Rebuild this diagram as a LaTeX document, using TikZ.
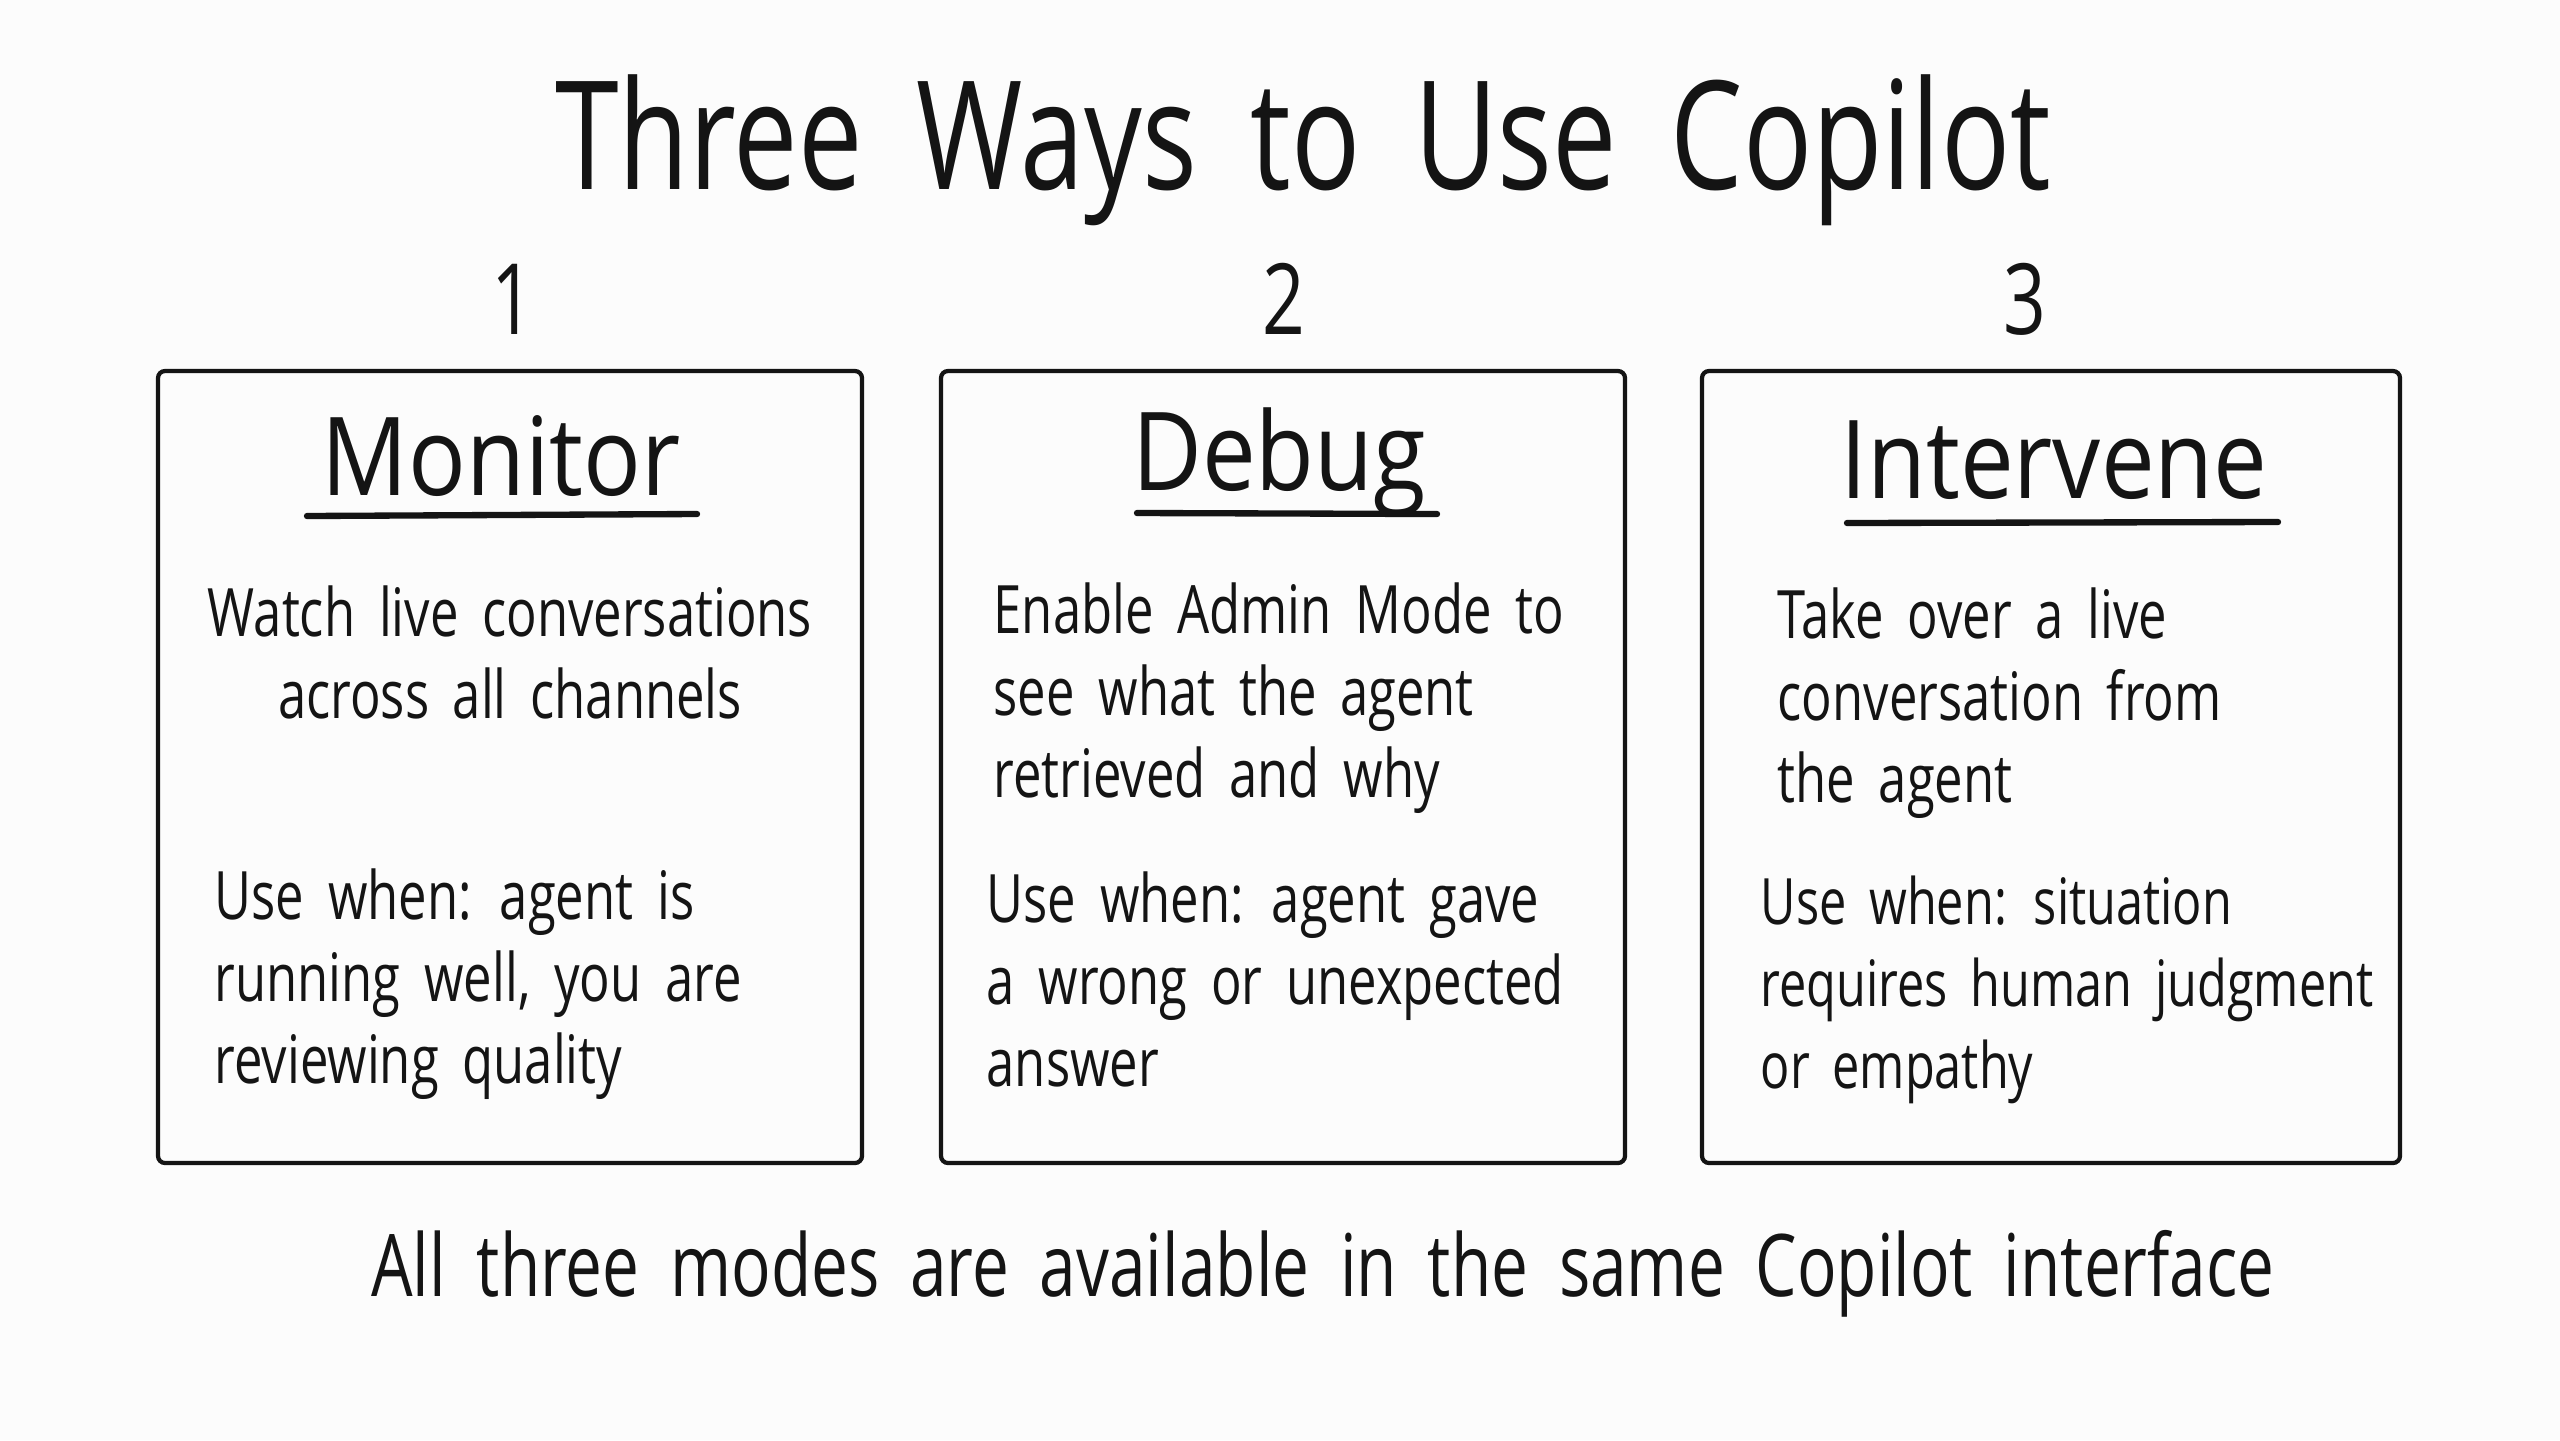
\documentclass[tikz,border=0pt]{standalone}
\usepackage{fontspec}
\setmainfont[WordSpace=1.6]{Open Sans}
\newfontfamily\handfont[FakeStretch=0.76,WordSpace=1.8]{Open Sans}
\newfontfamily\headfont[FakeStretch=0.88,WordSpace=1.8]{Open Sans}
\usepackage{xcolor}
\usetikzlibrary{positioning}
\definecolor{ink}{HTML}{141414}
\definecolor{paper}{HTML}{FCFCFC}
\tikzset{
	card/.style={draw=ink, line width=1.2pt, rounded corners=2pt, minimum height=7.92cm},
	heading/.style={font=\headfont\fontsize{31}{36}\selectfont, text=ink, inner sep=0pt, anchor=base},
	body/.style={font=\handfont\fontsize{19}{23.3}\selectfont, align=left, anchor=north west, inner sep=0pt, text=ink},
	rule/.style={draw=ink, line width=1.8pt, line cap=round},
	number/.style={font=\handfont\fontsize{28}{30}\selectfont, text=ink, inner sep=0pt}
}

\begin{document}
\begin{tikzpicture}
	\fill[paper] (0,0) rectangle (25.6,-14.4);
	\useasboundingbox (0,0) rectangle (25.6,-14.4);
	% Title
	\node[font=\handfont\fontsize{43}{48}\selectfont, text=ink] (title) at (13.03,-1.50) {Three Ways to Use Copilot};
	% Numbers
	\node[number] (n-1) at (5.13,-2.99) {1};
	\node[number] (n-2) at (12.84,-2.99) {2};
	\node[number] (n-3) at (20.25,-2.99) {3};
	% Cards
	\node[card, minimum width=7.04cm] (box-1) at (5.10,-7.67) {};
	\node[card, minimum width=6.84cm] (box-2) at (12.83,-7.67) {};
	\node[card, minimum width=6.98cm] (box-3) at (20.51,-7.67) {};
	% Headings
	\node[heading] (head-1) at (5.01,-4.95) {Monitor};
	\node[heading] (head-2) at (12.79,-4.90) {Debug};
	\node[heading] (head-3) at (20.54,-4.98) {Intervene};
	\draw[rule] (3.07,-5.16) -- (6.97,-5.14);
	\draw[rule] (11.37,-5.13) -- (14.37,-5.14);
	\draw[rule] (18.47,-5.23) -- (22.78,-5.22);
	% Card texts
	\node[body, align=center, anchor=north] (what-1) at (5.10,-5.85) {Watch live conversations\\across all channels};
	\node[body] (when-1) at (2.14,-8.68) {Use when: agent is\\running well, you are\\reviewing quality};
	\node[body] (what-2) at (9.93,-5.82) {Enable Admin Mode to\\see what the agent\\retrieved and why};
	\node[body] (when-2) at (9.86,-8.71) {Use when: agent gave\\a wrong or unexpected\\answer};
	\node[body] (what-3) at (17.77,-5.87) {Take over a live\\conversation from\\the agent};
	\node[body, font=\handfont\fontsize{18.2}{23.3}\selectfont] (when-3) at (17.60,-8.75) {Use when: situation\\requires human judgment\\or empathy};
	% Footer
	\node[font=\handfont\fontsize{24.6}{29}\selectfont, text=ink] (footer) at (13.23,-12.74) {All three modes are available in the same Copilot interface};
\end{tikzpicture}
\end{document}
